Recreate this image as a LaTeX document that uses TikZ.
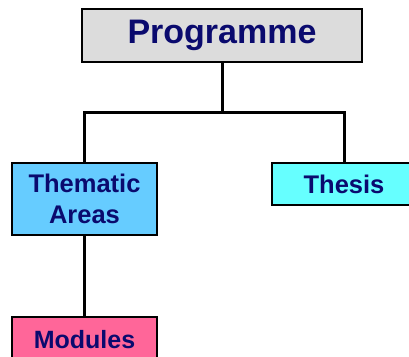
\documentclass[tikz,border=0pt]{standalone}
\usepackage{fontspec}
\setmainfont{Liberation Sans}
\definecolor{navytext}{HTML}{0A0A6E}
\definecolor{progfill}{HTML}{DCDCDC}
\definecolor{themfill}{HTML}{66CCFF}
\definecolor{thesfill}{HTML}{66FFFF}
\definecolor{modfill}{HTML}{FF6699}
\begin{document}
\begin{tikzpicture}[x=1pt,y=-1pt,
  box/.style={draw=black,line width=2pt,inner sep=0pt,font=\bfseries,text=navytext,align=center},
  link/.style={draw=black,line width=3pt}]
\useasboundingbox (0,0) rectangle (409,356);
\begin{scope}
\clip (0,0) rectangle (409,356);
\node[box,fill=progfill,minimum width=280pt,minimum height=53pt,font=\fontsize{34}{40}\bfseries\selectfont] (prog) at (222,35.5) {Programme};
\node[box,fill=themfill,minimum width=145pt,minimum height=72pt,font=\fontsize{25.5}{31}\bfseries\selectfont] (them) at (84.5,199) {Thematic\\Areas};
\node[box,fill=thesfill,minimum width=144pt,minimum height=42pt,font=\fontsize{25.5}{31}\bfseries\selectfont] (thes) at (344,184) {Thesis};
\node[box,fill=modfill,minimum width=145pt,minimum height=46pt,font=\fontsize{25}{30}\bfseries\selectfont] (mod) at (84.5,340) {Modules};
\coordinate (j) at (222,112);
\draw[link] (prog.south) -- (j);
\draw[link] (them.north) |- (j) -| (thes.north);
\draw[link] (them.south) -- (mod.north);
\end{scope}
\end{tikzpicture}
\end{document}
